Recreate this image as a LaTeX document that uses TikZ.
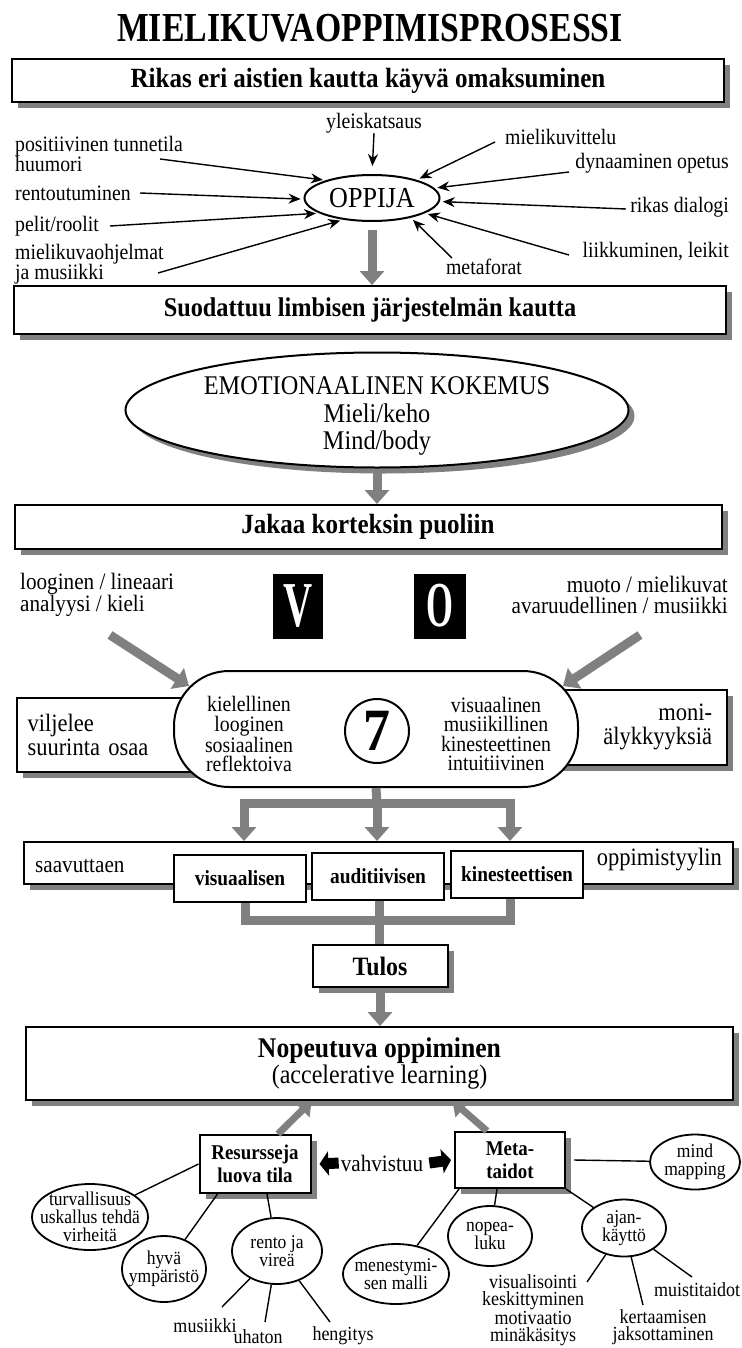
\documentclass[tikz,border=0pt]{standalone}
\usepackage{fontspec}
\setmainfont{Liberation Serif}[FakeStretch=0.9]
\usepackage{graphicx}
\usetikzlibrary{arrows.meta,shadows,shapes.geometric,calc}
\tikzset{
 shad/.style={drop shadow={shadow xshift=6pt, shadow yshift=-6pt, fill=black!50, opacity=1}},
 bigbox/.style={draw, line width=2pt, fill=white, shad, inner sep=0pt},
 plainbox/.style={draw, line width=2pt, fill=white, inner sep=0pt},
 thinarr/.style={-{Stealth[length=12pt,width=10pt]}, line width=1.4pt, shorten >=3pt},
 grayarr/.style={-{Triangle[length=14pt,width=24pt]}, line width=9pt, draw=black!50},
 grayarrs/.style={-{Triangle[length=13pt,width=20pt]}, line width=7pt, draw=black!50},
 graypipe/.style={line width=9pt, draw=black!50},
 blkarr/.style={-{Triangle[length=9pt,width=24pt]}, line width=11pt, draw=black},
 lbl/.style={inner sep=0pt, font=\fontsize{22}{20}\selectfont, align=left},
 oval/.style={ellipse, draw, line width=1.8pt, inner sep=0pt, fill=white},
 ctext/.style={inner sep=0pt, align=center, font=\fontsize{19.5}{18}\selectfont},
 small/.style={inner sep=0pt, font=\fontsize{20}{17.5}\selectfont, align=center},
 conn/.style={line width=1.4pt},
}
\begin{document}
\begin{tikzpicture}[x=1pt,y=-1pt]
\fill[white] (0,0) rectangle (741,1348);
\useasboundingbox (0,0) rectangle (741,1348);

% title
\node[inner sep=0pt, font=\fontsize{37.5}{37.5}\selectfont\bfseries] (title) at (370,28) {\scalebox{1}[1.1]{MIELIKUVAOPPIMISPROSESSI}};

% box 1
\node[bigbox, minimum width=712pt, minimum height=43pt, font=\fontsize{27.8}{27.8}\selectfont\bfseries] (b1) at (368,81) {Rikas eri aistien kautta käyvä omaksuminen};

% OPPIJA
\node[ellipse, draw, line width=2pt, minimum width=135pt, minimum height=46pt, inner sep=0pt, font=\fontsize{29}{29}\selectfont] (opp) at (372,198) {OPPIJA};

\node[lbl] (yle) at (374,123) {yleiskatsaus};
\node[lbl, anchor=west] (pos) at (15,154) {positiivinen tunnetila\\huumori};
\node[lbl, anchor=west] (ren) at (15,193) {rentoutuminen};
\node[lbl, anchor=west] (pel) at (15,226) {pelit/roolit};
\node[lbl, anchor=west] (mko) at (15,264) {mielikuvaohjelmat\\ja musiikki};
\node[lbl, anchor=west] (mkv) at (505,137) {mielikuvittelu};
\node[lbl, anchor=east] (dyn) at (729,163) {dynaaminen opetus};
\node[lbl, anchor=east] (rik) at (729,207) {rikas dialogi};
\node[lbl, anchor=east] (lii) at (729,252) {liikkuminen, leikit};
\node[lbl] (met) at (484,267) {metaforat};

\coordinate (tpos) at (160,159);
\coordinate (tren) at (140,193);
\coordinate (tpel) at (110,226);
\coordinate (tmko) at (158,273);
\coordinate (tmkv) at (495,142);
\coordinate (tdyn) at (569,172);
\coordinate (trik) at (626,209);
\coordinate (tlii) at (569,255);
\coordinate (tmet) at (452,258);

\draw[thinarr, shorten >=8pt] (yle.south) -- (opp.north);
\draw[thinarr] (tpos) -- (opp.159);
\draw[thinarr] (tren) -- (opp.181);
\draw[thinarr] (tpel) -- (opp.196);
\draw[thinarr] (tmko) -- (opp.217);
\draw[thinarr] (tmkv) -- (opp.22);
\draw[thinarr] (tdyn) -- (opp.9);
\draw[thinarr] (trik) -- (opp.-3);
\draw[thinarr] (tlii) -- (opp.-16);
\draw[thinarr] (tmet) -- (opp.-27);

% box 2
\node[bigbox, minimum width=712pt, minimum height=48pt, font=\fontsize{27}{27}\selectfont\bfseries] (b2) at (370,310) {Suodattuu limbisen järjestelmän kautta};
\draw[grayarr] ([yshift=-8pt]opp.south) -- (opp.south |- b2.north);

% emotional ellipse
\node[ellipse, draw, line width=2pt, fill=white, shad, minimum width=503pt, minimum height=115pt, inner sep=0pt,
  label={[inner sep=0pt, yshift=-6pt, align=center, font=\fontsize{27}{27.5}\selectfont]center:EMOTIONAALINEN KOKEMUS\\Mieli/keho\\Mind/body}] (emo) at (377,410) {};

% box 3
\node[bigbox, minimum width=707pt, minimum height=44pt, font=\fontsize{27.8}{27.8}\selectfont\bfseries] (b3) at (368,527) {Jakaa korteksin puoliin};
\draw[grayarr] (emo.south) -- (emo.south |- b3.north);

% V and O
\node[fill=black, minimum width=50pt, minimum height=65pt, inner sep=0pt, text=white, font=\fontsize{64}{64}\selectfont\bfseries] (V) at (298,606) {\scalebox{0.7}[1]{V}};
\node[fill=black, minimum width=52pt, minimum height=65pt, inner sep=0pt, text=white, font=\fontsize{64}{64}\selectfont\bfseries] (O) at (440,606) {\scalebox{0.6}[1]{O}};

\node[lbl, font=\fontsize{23.5}{21}\selectfont, anchor=west] (log) at (20,595) {looginen / lineaari\\analyysi / kieli};
\node[lbl, font=\fontsize{23.5}{21}\selectfont, anchor=east, align=right] (muo) at (728,595) {muoto / mielikuvat\\avaruudellinen / musiikki};

% side boxes
\node[bigbox, minimum width=218pt, minimum height=74pt, text width=207pt, inner xsep=11pt, align=left, font=\fontsize{25}{24}\selectfont] (lbox) at (131,735) {viljelee\\suurinta osaa};
\node[bigbox, minimum width=207pt, minimum height=75pt, text width=177pt, inner xsep=15pt, align=right, font=\fontsize{25}{24}\selectfont] (rbox) at (623.5,727) {moni-\\älykkyyksiä};

% stadium
\node[draw, line width=2pt, fill=white, rounded corners=55pt, minimum width=404pt, minimum height=116pt, inner sep=0pt] (stad) at (376,729) {};
\node[small, font=\fontsize{22}{19.5}\selectfont] (lcol) at (249,734) {kielellinen\\looginen\\sosiaalinen\\reflektoiva};
\node[circle, draw, line width=2pt, minimum size=64pt, inner sep=0pt, font=\fontsize{60}{60}\selectfont\bfseries] (seven) at (377,731) {7};
\node[small, font=\fontsize{22}{19.5}\selectfont] (rcol) at (496,734) {visuaalinen\\musiikillinen\\kinesteettinen\\intuitiivinen};

\coordinate (logtail) at (110,635);
\coordinate (muotail) at (640,635);
\draw[grayarr] (logtail) -- ([shift={(16,16)}]stad.north west);
\draw[grayarr] (muotail) -- ([shift={(-16,16)}]stad.north east);

% band
\node[bigbox, minimum width=709pt, minimum height=42pt] (band) at (378.5,863) {};
\node[lbl, font=\fontsize{23.5}{20}\selectfont, anchor=west] (saa) at (35,866) {saavuttaen};
\node[lbl, font=\fontsize{25}{21}\selectfont, anchor=east] (opt) at (722,860) {oppimistyylin};
\node[plainbox, minimum width=132pt, minimum height=47pt, font=\fontsize{21.5}{21}\selectfont\bfseries] (vis) at (240,878) {visuaalisen};
\node[plainbox, minimum width=132pt, minimum height=47pt, font=\fontsize{21.5}{21}\selectfont\bfseries] (aud) at (378,876) {auditiivisen};
\node[plainbox, minimum width=132pt, minimum height=47pt, font=\fontsize{21.5}{21}\selectfont\bfseries] (kin) at (517,874) {kinesteettisen};

% upper pipe
\coordinate (j1) at (377,803);
\coordinate (j1l) at (244,803);
\coordinate (j1r) at (510,803);
\draw[graypipe] (stad.south) -- (j1);
\draw[graypipe, line cap=rect] (j1l) -- (j1r);
\draw[grayarr] (j1l) -- (j1l |- band.north);
\draw[grayarr] (j1) -- (j1 |- band.north);
\draw[grayarr] (j1r) -- (j1r |- band.north);

% Tulos
\node[bigbox, minimum width=135pt, minimum height=42pt, font=\fontsize{26.5}{26}\selectfont\bfseries] (tulos) at (380,966) {Tulos};

% lower pipe
\coordinate (j2l) at (245,920);
\coordinate (j2) at (379,920);
\coordinate (j2r) at (510,920);
\draw[graypipe] (vis.south -| j2l) -- (j2l);
\draw[graypipe] (aud.south -| j2) -- (j2);
\draw[graypipe] (kin.south -| j2r) -- (j2r);
\draw[graypipe, line cap=rect] (j2l) -- (j2r);
\draw[graypipe] (j2) -- (j2 |- tulos.north);

% Nopeutuva
\node[bigbox, minimum width=707pt, minimum height=73pt, align=center, font=\fontsize{26.7}{26}\selectfont] (nop) at (379.5,1063.5) {{\bfseries\fontsize{28.5}{26}\selectfont Nopeutuva oppiminen}\\(accelerative learning)};
\draw[grayarr] ([yshift=-3pt]tulos.south) -- (tulos.south |- nop.north);

% Resursseja / Meta
\node[bigbox, minimum width=111pt, minimum height=58pt, align=center, font=\fontsize{21}{23}\selectfont\bfseries] (res) at (255,1164) {Resursseja\\luova tila};
\node[bigbox, minimum width=110pt, minimum height=56pt, align=center, font=\fontsize{21}{23}\selectfont\bfseries] (meta) at (510,1160) {Meta-\\taidot};
\node[lbl, font=\fontsize{23.5}{20}\selectfont] (vah) at (382,1163) {vahvistuu};
\draw[blkarr] ([xshift=-2pt]vah.west) -- ([xshift=8pt]res.east);
\draw[blkarr] ([xshift=6pt]vah.east) -- ([xshift=-3pt]meta.west);
\draw[grayarrs] ([xshift=23pt]res.north) -- ([xshift=-68pt]nop.south);
\draw[grayarrs] ([xshift=-23pt]meta.north) -- ([xshift=73pt]nop.south);

% ovals
\node[oval, minimum width=116pt, minimum height=66pt, label={[ctext]center:turvallisuus\\uskallus tehdä\\virheitä}] (turv) at (90,1217) {};
\node[oval, minimum width=84pt, minimum height=66pt, label={[ctext]center:hyvä\\ympäristö}] (hyva) at (164,1269) {};
\node[oval, minimum width=90pt, minimum height=66pt, label={[ctext]center:rento ja\\vireä}] (rento) at (277,1251) {};
\node[oval, minimum width=106pt, minimum height=60pt, label={[ctext]center:menestymi-\\sen malli}] (menest) at (396,1274) {};
\node[oval, minimum width=84pt, minimum height=60pt, label={[ctext]center:nopea-\\luku}] (nopea) at (490,1236) {};
\node[oval, minimum width=84pt, minimum height=57pt, label={[ctext]center:ajan-\\käyttö}] (ajan) at (624,1228) {};
\node[oval, minimum width=90pt, minimum height=55pt, label={[ctext]center:mind\\mapping}] (mind) at (695,1162) {};

\draw[conn] (res.west) -- (turv);
\draw[conn] ([xshift=19pt]res.south west) -- (hyva);
\draw[conn] ([xshift=12pt]res.south) -- (rento);
\draw[conn] ([xshift=5pt]meta.south west) -- (menest);
\draw[conn] ([xshift=-13pt]meta.south) -- (nopea);
\draw[conn] (meta.south east) -- (ajan);
\draw[conn] ([xshift=8pt]meta.east) -- (mind);

% leaf labels
\node[small] (mus) at (205,1326) {musiikki};
\node[small] (uha) at (258,1337) {uhaton};
\node[small] (hen) at (343,1336) {hengitys};
\node[small] (visb) at (533,1310) {visualisointi\\keskittyminen\\motivaatio\\minäkäsitys};
\node[small] (mui) at (697,1290) {muistitaidot};
\node[small] (ker) at (663,1327) {kertaamisen\\jaksottaminen};

\coordinate (e1) at (222,1307);
\coordinate (e2) at (265,1322);
\coordinate (e3) at (330,1322);
\coordinate (e4) at (587,1282);
\coordinate (e5) at (643,1305);
\coordinate (e6) at (692,1277);
\draw[conn] (rento) -- (e1);
\draw[conn] (rento) -- (e2);
\draw[conn] (rento) -- (e3);
\draw[conn] (ajan) -- (e4);
\draw[conn] (ajan) -- (e5);
\draw[conn] (ajan) -- (e6);
\end{tikzpicture}
\end{document}
